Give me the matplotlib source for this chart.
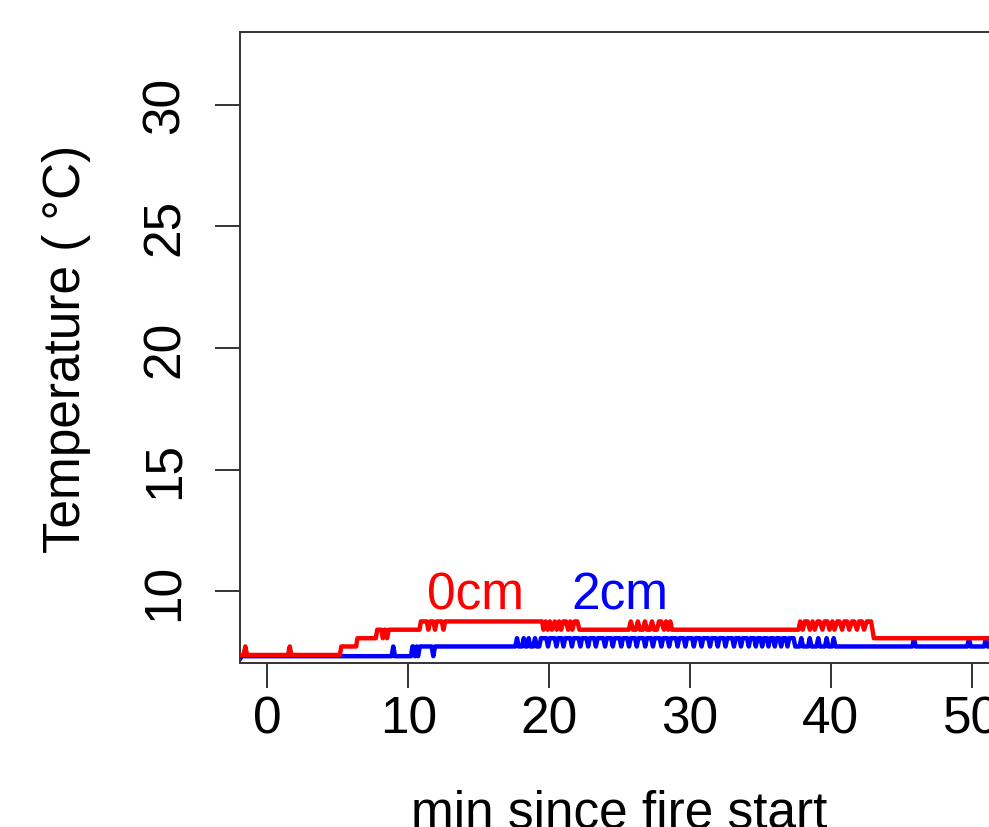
import matplotlib
matplotlib.use("Agg")
import matplotlib.pyplot as plt

plt.rcParams["font.family"] = ["Liberation Sans", "DejaVu Sans"]

# ── Data ──────────────────────────────────────────────────────────────────────
# temperature levels seen in the logger output (deg C)
L0, L1, L2, L3, L4 = 7.37, 7.72, 8.06, 8.41, 8.75

# 0 cm sensor
red_t = [-1.94, -1.68, -1.56, -1.44, 1.47, 1.59, 1.71, 5.15, 5.25, 6.30, 6.40,
         7.70, 7.80, 8.08, 8.20, 8.32, 8.38, 8.50, 8.62, 10.80, 10.90,
         11.31, 11.43, 11.55, 11.78, 11.90, 12.02, 12.38, 12.50, 12.62,
         19.50, 19.60, 19.75, 19.90, 20.05, 20.20, 20.40, 20.55, 20.70, 20.85,
         21.00, 21.20, 21.35, 21.50, 21.65, 21.80, 22.00, 22.15,
         25.65, 25.80, 25.95, 26.15, 26.30, 26.45, 26.65, 26.80, 26.95, 27.15,
         27.30, 27.45, 27.65, 27.80, 27.95, 28.15, 28.30, 28.45, 28.60, 28.72,
         37.70, 37.82, 38.00, 38.15, 38.35, 38.50, 38.70, 38.85, 39.05, 39.20,
         39.40, 39.55, 39.75, 39.90, 40.10, 40.25, 40.45, 40.60, 40.80, 40.95,
         41.15, 41.30, 41.50, 41.65, 41.85, 42.00, 42.20, 42.35, 42.55, 42.70,
         42.85, 42.95, 43.05, 52.50]
red_y = [L0, L0, L1, L0, L0, L1, L0, L0, L1, L1, L2,
         L2, L3, L3, L2, L3, L3, L2, L3, L3, L4,
         L4, L3, L4, L4, L3, L4, L4, L3, L4,
         L4, L3, L4, L3, L4, L3, L4, L3, L4, L3,
         L4, L4, L3, L4, L3, L4, L4, L3,
         L3, L4, L3, L3, L4, L3, L3, L4, L3, L3,
         L4, L3, L3, L4, L4, L3, L4, L3, L4, L3,
         L3, L4, L3, L4, L4, L3, L4, L3, L4, L4,
         L3, L4, L4, L3, L4, L3, L4, L4, L3, L4,
         L4, L3, L4, L4, L3, L4, L4, L3, L4, L4,
         L4, L3, L2, L2]

# 2 cm sensor
B0, B1, B2 = 7.32, 7.72, 8.06
blue_t = [-1.94, -1.80, 8.82, 8.94, 9.06, 10.20, 10.30,
          10.36, 10.48, 10.60, 10.70, 10.82, 11.66, 11.78, 11.90,
          17.60, 17.72, 17.84, 18.08, 18.20, 18.32, 18.43, 18.55, 18.67,
          18.88, 19.00, 19.12, 19.30, 19.42,
          19.80, 19.92, 20.04, 20.40, 20.52, 20.64, 20.90, 21.02, 21.14,
          21.50, 21.62, 21.74, 22.10, 22.22, 22.34, 22.65, 22.77, 22.89,
          23.20, 23.32, 23.44, 23.85, 23.97, 24.09, 24.40, 24.52, 24.64,
          25.00, 25.12, 25.24, 25.55, 25.67, 25.79, 26.10, 26.22, 26.34,
          26.70, 26.82, 26.94, 27.25, 27.37, 27.49, 27.85, 27.97, 28.09,
          28.40, 28.52, 28.64, 29.00, 29.12, 29.24, 29.55, 29.67, 29.79,
          30.15, 30.27, 30.39, 30.70, 30.82, 30.94, 31.30, 31.42, 31.54,
          31.85, 31.97, 32.09, 32.40, 32.52, 32.64, 33.00, 33.12, 33.24,
          33.50, 33.62, 33.74, 34.05, 34.17, 34.29, 34.55, 34.67, 34.79,
          35.00, 35.12, 35.24, 35.45, 35.57, 35.69, 35.90, 36.02, 36.14,
          36.35, 36.47, 36.59, 36.80, 36.92, 37.04, 37.35, 37.47,
          37.78, 37.90, 38.02, 38.38, 38.50, 38.62, 38.98, 39.10, 39.22,
          39.58, 39.70, 39.82, 40.08, 40.20, 40.32,
          45.78, 45.90, 46.02, 49.68, 49.80, 49.92, 50.88, 51.00, 51.12, 52.50]
blue_y = [7.20, B0, B0, B1, B0, B0, B1,
          B1, B0, B1, B0, B1, B1, B0, B1,
          B1, B2, B1, B1, B2, B1, B1, B2, B1,
          B1, B2, B1, B1, B2,
          B2, B1, B2, B2, B1, B2, B2, B1, B2,
          B2, B1, B2, B2, B1, B2, B2, B1, B2,
          B2, B1, B2, B2, B1, B2, B2, B1, B2,
          B2, B1, B2, B2, B1, B2, B2, B1, B2,
          B2, B1, B2, B2, B1, B2, B2, B1, B2,
          B2, B1, B2, B2, B1, B2, B2, B1, B2,
          B2, B1, B2, B2, B1, B2, B2, B1, B2,
          B2, B1, B2, B2, B1, B2, B2, B1, B2,
          B2, B1, B2, B2, B1, B2, B2, B1, B2,
          B2, B1, B2, B2, B1, B2, B2, B1, B2,
          B2, B1, B2, B2, B1, B2, B2, B1,
          B1, B2, B1, B1, B2, B1, B1, B2, B1,
          B1, B2, B1, B1, B2, B1,
          B1, B2, B1, B1, B2, B1, B1, B2, B1, B1]

x_ticks = [0, 10, 20, 30, 40, 50]
y_ticks = [10, 15, 20, 25, 30]

FS = 37

# ── Figure ────────────────────────────────────────────────────────────────────
fig = plt.figure(figsize=(9.89, 8.28), dpi=100, facecolor="white")
# axes run slightly past the right edge of the canvas, like the cropped original
ax = fig.add_axes([240 / 989, (828 - 664) / 828, 758 / 989, 631 / 828])

ax.plot(blue_t, blue_y, color="#0000FF", lw=3.2, solid_joinstyle="round", zorder=2)
ax.plot(red_t, red_y, color="#FF0000", lw=3.2, solid_joinstyle="round", zorder=3)

ax.text(14.8, 9.85, "0cm", color="#FF0000", fontsize=FS, ha="center", va="center")
ax.text(25.0, 9.85, "2cm", color="#0000FF", fontsize=FS, ha="center", va="center")

ax.set_xlim(-1.94, 51.86)
ax.set_ylim(7.04, 33.0)
ax.set_xticks(x_ticks)
ax.set_yticks(y_ticks)
ax.tick_params(axis="both", direction="out", length=18, width=1.4,
               color="#333333", labelsize=FS)
ax.tick_params(axis="x", pad=5)
ax.tick_params(axis="y", pad=18)
for lbl in ax.get_yticklabels():
    lbl.set_rotation(90)
    lbl.set_va("center")

for sp in ax.spines.values():
    sp.set_color("#333333")
    sp.set_linewidth(1.4)

ax.set_ylabel("Temperature ( °C)", fontsize=FS, labelpad=36)
ax.set_xlabel("min since fire start", fontsize=FS, labelpad=32)

fig.savefig("out.png", dpi=100, facecolor="white")
